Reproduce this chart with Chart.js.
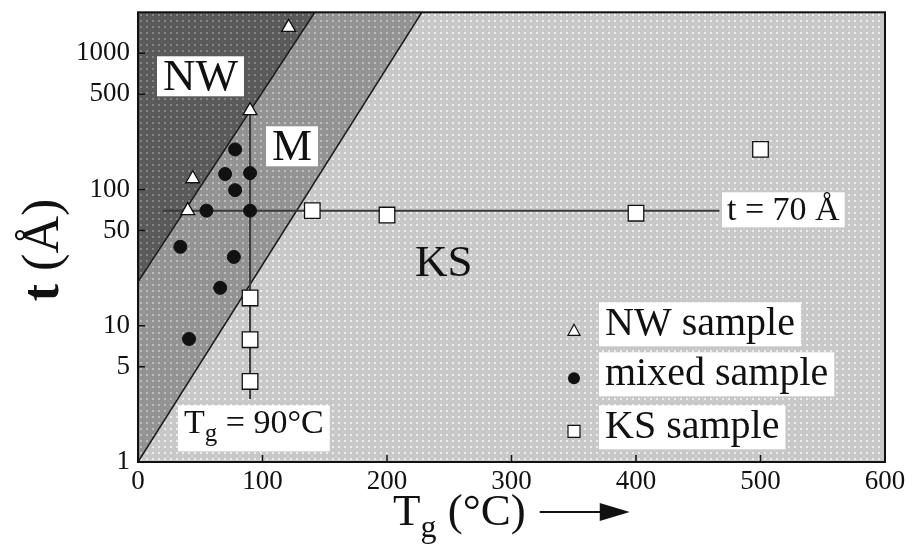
<!DOCTYPE html>
<html>
<head>
<meta charset="utf-8">
<script src="https://cdn.jsdelivr.net/npm/chart.js@4.4.1/dist/chart.umd.min.js"></script>
<style>
  html, body { margin: 0; padding: 0; background: #fff; }
  #wrap { width: 916px; height: 546px; position: relative; }
</style>
</head>
<body>
<div id="wrap"><canvas id="chart" width="916" height="546"></canvas></div>
<script>
// samples: Tg in °C, t in Å
const nwTg = [121, 90, 44, 40];
const nwT = [1550, 380, 120, 70];
const mixedTg = [78, 70, 90, 78, 55, 90, 34, 77, 66, 41];
const mixedT = [197, 130, 132, 99, 70, 70, 38, 32, 19, 8];
const ksTg = [140, 200, 400, 500, 90, 90, 90];
const ksT = [70, 65, 67, 197, 16, 7.9, 3.9];

// phase boundaries (end points)
const nwBoundTg = [0, 142];
const nwBoundT = [21, 2000];
const ksBoundTg = [0, 228];
const ksBoundT = [1, 2000];

// guide lines t = 70 Å and Tg = 90 °C
const thickLineTg = [20, 467];
const thickLineT = [70, 70];
const tempLineTg = [90, 90];
const tempLineT = [2.9, 380];

const xTicks = [0, 100, 200, 300, 400, 500, 600];
const yTicks = [1, 5, 10, 50, 100, 500, 1000];

const pts = (xs, ys) => xs.map((x, i) => ({ x: x, y: ys[i] }));

const canvas = document.getElementById('chart');
const ctx0 = canvas.getContext('2d');

// halftone-ish fills like the printed figure
function halftone(base, dot) {
  const c = document.createElement('canvas');
  c.width = 6; c.height = 6;
  const g = c.getContext('2d');
  g.fillStyle = base;
  g.fillRect(0, 0, 6, 6);
  g.fillStyle = dot;
  g.fillRect(2, 2, 2, 2);
  return ctx0.createPattern(c, 'repeat');
}
const fillNW = halftone('#5a5a5a', '#858585');
const fillM = halftone('#939393', '#bdbdbd');
const fillKS = halftone('#c8c8c8', '#ececec');

const SERIF = '"Liberation Serif", "DejaVu Serif", serif';
const INK = '#111';

function drawParts(ctx, parts, x, y, box) {
  // parts: [text, size, dy]
  let w = 0;
  parts.forEach(p => { ctx.font = p[1] + 'px ' + SERIF; w += ctx.measureText(p[0]).width; });
  if (box) {
    ctx.fillStyle = '#fff';
    ctx.fillRect(x - box[0], y - box[1], w + 2 * box[0], box[1] + box[2]);
  }
  ctx.fillStyle = INK;
  ctx.textBaseline = 'alphabetic';
  ctx.textAlign = 'left';
  let cx = x;
  parts.forEach(p => {
    ctx.font = p[1] + 'px ' + SERIF;
    ctx.fillText(p[0], cx, y + (p[2] || 0));
    cx += ctx.measureText(p[0]).width;
  });
  return cx;
}

const decorations = {
  id: 'decorations',
  beforeDraw(chart) {
    const { ctx, chartArea: a } = chart;
    ctx.save();
    ctx.fillStyle = fillKS;
    ctx.fillRect(a.left, a.top, a.right - a.left, a.bottom - a.top);
    ctx.restore();
  },
  afterDatasetsDraw(chart) {
    const { ctx, chartArea: a, scales } = chart;
    const L = a.left, T = a.top;
    ctx.save();

    // region and guide labels
    drawParts(ctx, [['NW', 45]], L + 25, T + 78, [6, 34, 6]);
    drawParts(ctx, [['M', 45]], L + 134, T + 148, [6, 34, 6]);
    drawParts(ctx, [['KS', 45]], L + 277, T + 264, null);
    drawParts(ctx, [['t = 70 Å', 34]], L + 589, T + 208, [5, 28, 7]);
    drawParts(ctx, [['T', 34], ['g', 25, 8], [' = 90°C', 34]], L + 46, T + 421, [6, 28, 18]);

    // legend
    const mx = L + 436;
    const rows = [
      ['NW sample', T + 323, T + 318, 'tri'],
      ['mixed sample', T + 373, T + 366, 'dot'],
      ['KS sample', T + 426, T + 419, 'sq']
    ];
    rows.forEach(r => {
      drawParts(ctx, [[r[0], 40]], L + 467, r[1], [6, 33, 11]);
      ctx.lineWidth = 1.2;
      ctx.strokeStyle = INK;
      ctx.beginPath();
      if (r[3] === 'tri') {
        ctx.moveTo(mx, r[2] - 6); ctx.lineTo(mx + 6, r[2] + 5); ctx.lineTo(mx - 6, r[2] + 5); ctx.closePath();
        ctx.fillStyle = '#fff'; ctx.fill(); ctx.stroke();
      } else if (r[3] === 'dot') {
        ctx.arc(mx, r[2], 6, 0, Math.PI * 2);
        ctx.fillStyle = INK; ctx.fill();
      } else {
        ctx.rect(mx - 6, r[2] - 6, 12, 12);
        ctx.fillStyle = '#fff'; ctx.fill(); ctx.stroke();
      }
    });

    // frame with inward ticks
    ctx.strokeStyle = INK;
    ctx.lineWidth = 2;
    ctx.strokeRect(a.left, a.top, a.right - a.left, a.bottom - a.top);
    ctx.lineWidth = 1.5;
    ctx.beginPath();
    xTicks.forEach(v => {
      const px = scales.x.getPixelForValue(v);
      ctx.moveTo(px, a.bottom); ctx.lineTo(px, a.bottom - 7);
    });
    yTicks.forEach(v => {
      const py = scales.y.getPixelForValue(v);
      ctx.moveTo(a.left, py); ctx.lineTo(a.left + 7, py);
    });
    ctx.stroke();

    // axis titles
    const end = drawParts(ctx, [['T', 45], ['g', 32, 12], [' (°C)', 45]], 393, 525, null);
    ctx.lineWidth = 2;
    ctx.beginPath();
    ctx.moveTo(end + 14, 512); ctx.lineTo(end + 80, 512);
    ctx.stroke();
    ctx.beginPath();
    ctx.moveTo(end + 104, 512); ctx.lineTo(end + 74, 503); ctx.lineTo(end + 74, 521); ctx.closePath();
    ctx.fillStyle = INK; ctx.fill();

    ctx.translate(58, 250);
    ctx.rotate(-Math.PI / 2);
    ctx.fillStyle = INK;
    ctx.textAlign = 'left';
    ctx.textBaseline = 'alphabetic';
    ctx.font = 'bold 52px ' + SERIF;
    const tw = ctx.measureText('t').width;
    ctx.font = '52px ' + SERIF;
    const rw = ctx.measureText(' (Å)').width;
    ctx.font = 'bold 52px ' + SERIF;
    ctx.fillText('t', -(tw + rw) / 2, 0);
    ctx.font = '52px ' + SERIF;
    ctx.fillText(' (Å)', -(tw + rw) / 2 + tw, 0);
    ctx.restore();
  }
};

const tickFont = { family: SERIF, size: 27 };

new Chart(canvas, {
  type: 'scatter',
  data: {
    datasets: [
      {
        type: 'line', label: 'M/KS boundary', data: pts(ksBoundTg, ksBoundT),
        fill: 'end', backgroundColor: fillM, borderColor: '#1a1a1a', borderWidth: 1.5,
        pointRadius: 0, order: 10
      },
      {
        type: 'line', label: 'NW/M boundary', data: pts(nwBoundTg, nwBoundT),
        fill: 'end', backgroundColor: fillNW, borderColor: '#1a1a1a', borderWidth: 1.5,
        pointRadius: 0, order: 9
      },
      {
        type: 'line', label: 't = 70', data: pts(thickLineTg, thickLineT),
        borderColor: '#3a3a3a', borderWidth: 2, pointRadius: 0, fill: false, order: 5
      },
      {
        type: 'line', label: 'Tg = 90', data: pts(tempLineTg, tempLineT),
        borderColor: '#3a3a3a', borderWidth: 2, pointRadius: 0, fill: false, order: 5
      },
      {
        label: 'NW sample', data: pts(nwTg, nwT), pointStyle: 'triangle', pointRadius: 8,
        backgroundColor: '#fff', borderColor: INK, borderWidth: 1.3, order: 1
      },
      {
        label: 'mixed sample', data: pts(mixedTg, mixedT), pointStyle: 'circle', pointRadius: 6.5,
        backgroundColor: INK, borderColor: INK, borderWidth: 1, order: 1
      },
      {
        label: 'KS sample', data: pts(ksTg, ksT), pointStyle: 'rect', pointRadius: 11,
        backgroundColor: '#fff', borderColor: INK, borderWidth: 1.3, order: 1
      }
    ]
  },
  options: {
    responsive: false,
    animation: false,
    layout: { padding: { left: 0, top: 9, right: 31, bottom: 0 } },
    plugins: { legend: { display: false }, tooltip: { enabled: false } },
    scales: {
      x: {
        type: 'linear', min: 0, max: 600,
        afterBuildTicks: s => { s.ticks = xTicks.map(v => ({ value: v })); },
        afterFit: s => { s.height = 84; s.paddingLeft = 0; s.paddingRight = 0; },
        grid: { display: false, drawTicks: false },
        border: { display: false },
        ticks: { font: tickFont, color: INK, padding: 4, maxRotation: 0 }
      },
      y: {
        type: 'logarithmic', min: 1, max: 2000,
        afterBuildTicks: s => { s.ticks = yTicks.map(v => ({ value: v })); },
        afterFit: s => { s.width = 138; s.paddingTop = 0; s.paddingBottom = 0; },
        grid: { display: false, drawTicks: false },
        border: { display: false },
        ticks: { font: tickFont, color: INK, padding: 8, callback: v => String(v) }
      }
    }
  },
  plugins: [decorations]
});
</script>
</body>
</html>
